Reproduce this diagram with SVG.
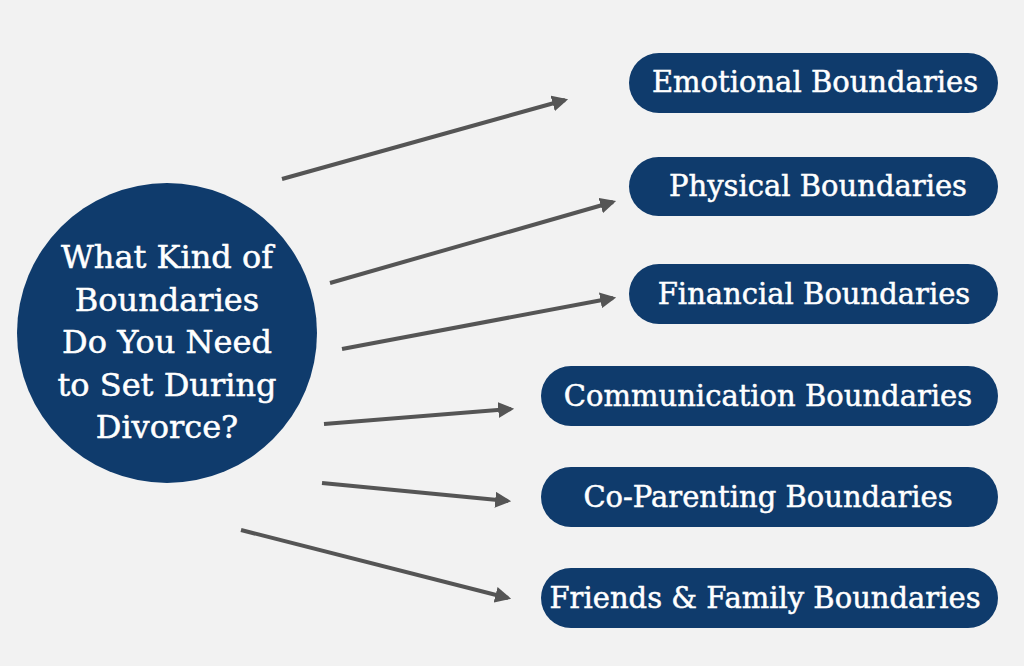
<svg xmlns="http://www.w3.org/2000/svg" width="1024" height="666" viewBox="0 0 1024 666">
<style>
.pill{fill:#0f3b6c}
.t{fill:#fff;stroke:#fff;stroke-width:0.5;font-family:"DejaVu Serif","Liberation Serif",serif;font-size:29px;text-anchor:middle}
.c{font-size:32px}
.a{stroke:#555;stroke-width:4;fill:none;marker-end:url(#ah)}
</style>
<defs><marker id="ah" viewBox="0 0 10 10" refX="8" refY="5" markerWidth="4" markerHeight="4" orient="auto"><path d="M0,0 L10,5 L0,10 z" fill="#555"/></marker></defs>
<rect width="1024" height="666" fill="#f2f2f2"/>
<g id="center"><circle cx="167" cy="333" r="150" class="pill"/>
<text class="t c" x="167" y="268">What Kind of</text>
<text class="t c" x="167" y="311">Boundaries</text>
<text class="t c" x="167" y="353">Do You Need</text>
<text class="t c" x="167" y="396">to Set During</text>
<text class="t c" x="167" y="438">Divorce?</text></g>
<g id="n1"><rect class="pill" x="629" y="53" width="369" height="60" rx="30"/><text class="t" x="815" y="92">Emotional Boundaries</text></g>
<g id="n2"><rect class="pill" x="629" y="157" width="369" height="59" rx="29.5"/><text class="t" x="818" y="196">Physical Boundaries</text></g>
<g id="n3"><rect class="pill" x="629" y="264" width="369" height="60" rx="30"/><text class="t" x="814" y="304">Financial Boundaries</text></g>
<g id="n4"><rect class="pill" x="541" y="366" width="457" height="60" rx="30"/><text class="t" x="768" y="406">Communication Boundaries</text></g>
<g id="n5"><rect class="pill" x="541" y="467" width="457" height="60" rx="30"/><text class="t" x="768" y="507">Co-Parenting Boundaries</text></g>
<g id="n6"><rect class="pill" x="541" y="568" width="457" height="60" rx="30"/><text class="t" x="765" y="608">Friends &amp; Family Boundaries</text></g>
<g id="connectors">
<line class="a" x1="282" y1="179" x2="565" y2="100"/>
<line class="a" x1="330" y1="283" x2="613" y2="202"/>
<line class="a" x1="342" y1="349" x2="613" y2="298"/>
<line class="a" x1="324" y1="424" x2="511" y2="409"/>
<line class="a" x1="322" y1="483" x2="508" y2="501"/>
<line class="a" x1="241" y1="530" x2="508" y2="598"/>
</g>
</svg>
